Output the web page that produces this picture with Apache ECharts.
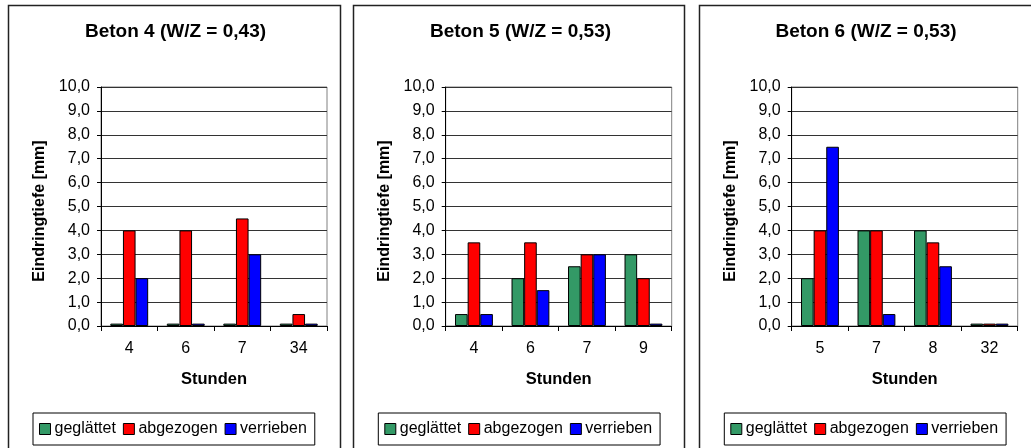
<!DOCTYPE html>
<html>
<head>
<meta charset="utf-8">
<script src="https://cdn.jsdelivr.net/npm/echarts@6/dist/echarts.min.js"></script>
<style>
  html, body { margin: 0; padding: 0; background: #fff; }
  #chart { width: 1031px; height: 448px; }
</style>
</head>
<body>
<div id="chart"></div>
<script>
// Penetration depth per finishing method over time (hours)
const seriesNames = ['geglättet', 'abgezogen', 'verrieben'];
const seriesColors = ['#339966', '#FF0000', '#0000FF'];
const yTicks = [0, 1, 2, 3, 4, 5, 6, 7, 8, 9, 10];

const titles = ['Beton 4 (W/Z = 0,43)', 'Beton 5 (W/Z = 0,53)', 'Beton 6 (W/Z = 0,53)'];

const hoursBeton4 = ['4', '6', '7', '34'];
const geglaettetBeton4 = [0.1, 0.1, 0.1, 0.1];
const abgezogenBeton4 = [4.0, 4.0, 4.5, 0.5];
const verriebenBeton4 = [2.0, 0.1, 3.0, 0.1];

const hoursBeton5 = ['4', '6', '7', '9'];
const geglaettetBeton5 = [0.5, 2.0, 2.5, 3.0];
const abgezogenBeton5 = [3.5, 3.5, 3.0, 2.0];
const verriebenBeton5 = [0.5, 1.5, 3.0, 0.1];

const hoursBeton6 = ['5', '7', '8', '32'];
const geglaettetBeton6 = [2.0, 4.0, 4.0, 0.1];
const abgezogenBeton6 = [4.0, 4.0, 3.5, 0.1];
const verriebenBeton6 = [7.5, 0.5, 2.5, 0.1];

const panels = [
  { hours: hoursBeton4, values: [geglaettetBeton4, abgezogenBeton4, verriebenBeton4] },
  { hours: hoursBeton5, values: [geglaettetBeton5, abgezogenBeton5, verriebenBeton5] },
  { hours: hoursBeton6, values: [geglaettetBeton6, abgezogenBeton6, verriebenBeton6] }
];

// layout of the three framed panels
const FONT = 'Arial, "Liberation Sans", sans-serif';
const frames = [
  { x: 8.5, w: 332, title: 175.5, grid: 101, legend: 33 },
  { x: 353.5, w: 331, title: 520.5, grid: 445.7, legend: 378.3 },
  { x: 699.5, w: 340, title: 866, grid: 791.7, legend: 724.3 }
];

const chart = echarts.init(document.getElementById('chart'), null, { renderer: 'canvas' });

const option = {
  animation: false,
  backgroundColor: '#fff',
  textStyle: { fontFamily: FONT },
  graphic: frames.map(f => ({
    type: 'rect',
    shape: { x: f.x, y: 5.5, width: f.w, height: 460 },
    style: { fill: 'none', stroke: '#222', lineWidth: 1.5 },
    z: -1
  })),
  title: frames.map((f, i) => ({
    text: titles[i],
    left: f.title,
    top: 22,
    textAlign: 'center',
    padding: 0,
    textStyle: { fontFamily: FONT, fontSize: 19, fontWeight: 'bold', color: '#000' }
  })),
  legend: frames.map(f => ({
    data: seriesNames,
    left: f.legend,
    top: 413,
    orient: 'horizontal',
    icon: 'rect',
    itemWidth: 11,
    itemHeight: 11,
    itemGap: 7,
    padding: [8, 8, 8, 6],
    borderColor: '#000',
    borderWidth: 1,
    selectedMode: false,
    itemStyle: { borderColor: '#000', borderWidth: 1 },
    textStyle: { fontFamily: FONT, fontSize: 16, color: '#000', padding: [0, 0, 0, -1] }
  })),
  grid: frames.map(f => ({
    left: f.grid,
    top: 87,
    width: 226,
    height: 239,
    show: true,
    borderColor: '#808080',
    borderWidth: 1,
    backgroundColor: '#fff'
  })),
  xAxis: panels.map((p, i) => ({
    type: 'category',
    gridIndex: i,
    data: p.hours,
    boundaryGap: true,
    name: 'Stunden',
    nameLocation: 'middle',
    nameGap: 45,
    nameTextStyle: { fontFamily: FONT, fontSize: 16.5, fontWeight: 'bold', color: '#000' },
    axisLine: { show: true, lineStyle: { color: '#000', width: 1 } },
    axisTick: { show: true, inside: false, length: 5, interval: 0, lineStyle: { color: '#000' } },
    axisLabel: { margin: 15, fontFamily: FONT, fontSize: 16, color: '#000' },
    splitLine: { show: false }
  })),
  yAxis: panels.map((p, i) => ({
    type: 'value',
    gridIndex: i,
    min: yTicks[0],
    max: yTicks[yTicks.length - 1],
    interval: 1,
    name: 'Eindringtiefe [mm]',
    nameLocation: 'middle',
    nameRotate: 90,
    nameGap: 53,
    nameTextStyle: { fontFamily: FONT, fontSize: 16, fontWeight: 'bold', color: '#000', padding: [0, 9, 0, 0] },
    axisLine: { show: true, lineStyle: { color: '#000', width: 1 } },
    axisTick: { show: true, inside: false, length: 4, lineStyle: { color: '#000' } },
    axisLabel: {
      margin: 11,
      fontFamily: FONT,
      fontSize: 16,
      color: '#000',
      formatter: v => v.toFixed(1).replace('.', ',')
    },
    splitLine: { show: true, lineStyle: { color: '#333', width: 1 } }
  })),
  series: []
};

panels.forEach((p, i) => {
  seriesNames.forEach((name, k) => {
    option.series.push({
      type: 'bar',
      name: name,
      xAxisIndex: i,
      yAxisIndex: i,
      data: p.values[k],
      barGap: '0%',
      barCategoryGap: '33%',
      itemStyle: { color: seriesColors[k], borderColor: '#000', borderWidth: 1 }
    });
  });
});

chart.setOption(option);
</script>
</body>
</html>
